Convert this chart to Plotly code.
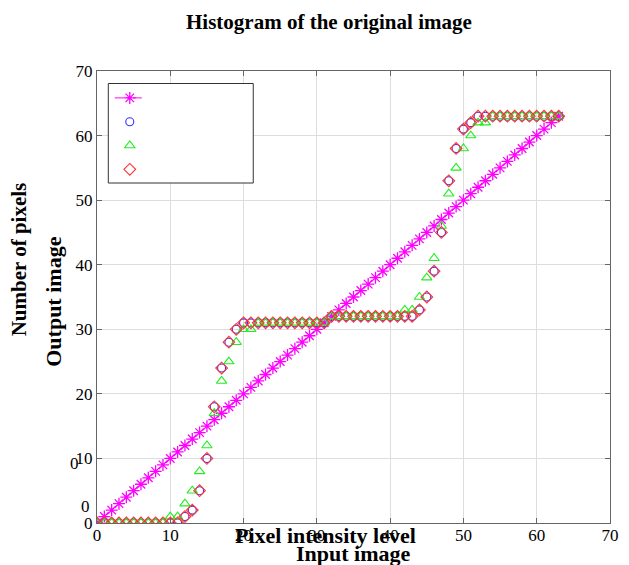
import plotly.graph_objects as go

levels = list(range(64))
identity = [0, 1, 2, 3, 4, 5, 6, 7, 8, 9, 10, 11, 12, 13, 14, 15, 16, 17, 18, 19,
            20, 21, 22, 23, 24, 25, 26, 27, 28, 29, 30, 31, 32, 33, 34, 35, 36, 37, 38, 39,
            40, 41, 42, 43, 44, 45, 46, 47, 48, 49, 50, 51, 52, 53, 54, 55, 56, 57, 58, 59,
            60, 61, 62, 63]
eq_blue = [0, 0, 0, 0, 0, 0, 0, 0, 0, 0, 0, 0, 1, 2, 5, 10, 18, 24, 28, 30,
           31, 31, 31, 31, 31, 31, 31, 31, 31, 31, 31, 31, 32, 32, 32, 32, 32, 32, 32, 32,
           32, 32, 32, 32, 33, 35, 39, 45, 53, 58, 61, 62, 63, 63, 63, 63, 63, 63, 63, 63,
           63, 63, 63, 63]
eq_green = [0, 0, 0, 0, 0, 0, 0, 0, 0, 0, 1, 1, 3, 5, 8, 12, 17, 22, 25, 28,
            30, 30, 31, 31, 31, 31, 31, 31, 31, 31, 31, 31, 32, 32, 32, 32, 32, 32, 32, 32,
            32, 32, 33, 33, 35, 38, 41, 46, 51, 55, 58, 60, 62, 62, 63, 63, 63, 63, 63, 63,
            63, 63, 63, 63]
eq_red = [0, 0, 0, 0, 0, 0, 0, 0, 0, 0, 0, 0, 1, 2, 5, 10, 18, 24, 28, 30,
          31, 31, 31, 31, 31, 31, 31, 31, 31, 31, 31, 31, 32, 32, 32, 32, 32, 32, 32, 32,
          32, 32, 32, 32, 33, 35, 39, 45, 53, 58, 61, 62, 63, 63, 63, 63, 63, 63, 63, 63,
          63, 63, 63, 63]
ticks = [0, 10, 20, 30, 40, 50, 60, 70]

SERIF = "Liberation Serif"
NB = "\u00a0" * 4

# plot area in pixels
L, R, T, B = 97, 619, 71, 523
W, H = R - L, B - T


def px(xp):
    return (xp - L) / W


def py(yp):
    return (B - yp) / H


fig = go.Figure()
fig.add_trace(go.Scatter(x=levels, y=identity, mode="lines+markers", name=NB,
                         line=dict(color="#ff00ff", width=1, dash="dashdot"),
                         marker=dict(symbol="asterisk-open", size=10,
                                     line=dict(color="#ff00ff", width=1.3))))
fig.add_trace(go.Scatter(x=levels, y=eq_blue, mode="markers", name=NB,
                         marker=dict(symbol="circle-open", size=8, color="#3333ff",
                                     line=dict(color="#3333ff", width=1.1))))
fig.add_trace(go.Scatter(x=levels, y=eq_green, mode="markers", name=NB,
                         marker=dict(symbol="triangle-up-open", size=9, color="#22ee22",
                                     line=dict(color="#22ee22", width=1.1))))
fig.add_trace(go.Scatter(x=levels, y=eq_red, mode="markers", name=NB,
                         marker=dict(symbol="diamond-open", size=9, color="#ff3333",
                                     line=dict(color="#ff3333", width=1.1))))

axis_common = dict(range=[0, 70], tickvals=ticks, ticktext=[str(t) for t in ticks],
                   showgrid=True, gridcolor="#dddddd", gridwidth=1,
                   showline=True, linecolor="#666666", linewidth=1, mirror="ticks",
                   ticks="inside", ticklen=5, tickcolor="#666666",
                   tickfont=dict(family=SERIF, size=17, color="black"),
                   zeroline=False, fixedrange=True)

fig.update_layout(
    width=629, height=565,
    margin=dict(l=L, r=629 - R, t=T, b=565 - B),
    paper_bgcolor="white", plot_bgcolor="white",
    xaxis=dict(**axis_common, ticklabelstandoff=-3),
    yaxis=dict(**axis_common),
    showlegend=True,
    legend=dict(x=px(110), y=py(81), xanchor="left", yanchor="top",
                borderwidth=0, bgcolor="rgba(0,0,0,0)",
                font=dict(family=SERIF, size=16)),
    shapes=[
        dict(type="rect", xref="paper", yref="paper",
             x0=px(108.5), x1=px(256), y0=py(83.5), y1=py(183),
             line=dict(color="#333333", width=1), fillcolor="white", layer="above"),
    ],
    annotations=[
        dict(text="<b>Histogram of the original image</b>", xref="paper", yref="paper",
             x=px(333.5), y=py(22), xanchor="center", yanchor="middle",
             showarrow=False, font=dict(family=SERIF, size=21, color="black")),
        dict(text="<b>Pixel intensity level</b>", xref="paper", yref="paper",
             x=px(330), y=py(535), xanchor="center", yanchor="middle",
             showarrow=False, font=dict(family=SERIF, size=22, color="black")),
        dict(text="<b>Input image</b>", xref="paper", yref="paper",
             x=px(358), y=py(553), xanchor="center", yanchor="middle",
             showarrow=False, font=dict(family=SERIF, size=22, color="black")),
        dict(text="<b>Number of pixels</b>", xref="paper", yref="paper",
             x=px(17.5), y=py(259.5), xanchor="center", yanchor="middle",
             textangle=-90, showarrow=False, font=dict(family=SERIF, size=21, color="black")),
        dict(text="<b>Output image</b>", xref="paper", yref="paper",
             x=px(52), y=py(302), xanchor="center", yanchor="middle",
             textangle=-90, showarrow=False, font=dict(family=SERIF, size=22, color="black")),
        dict(text="0", xref="paper", yref="paper",
             x=px(74), y=py(463), xanchor="center", yanchor="middle",
             showarrow=False, font=dict(family=SERIF, size=17, color="black")),
        dict(text="0", xref="paper", yref="paper",
             x=px(85.5), y=py(506.5), xanchor="center", yanchor="middle",
             showarrow=False, font=dict(family=SERIF, size=17, color="black")),
    ],
)

fig.write_html("out.html")
